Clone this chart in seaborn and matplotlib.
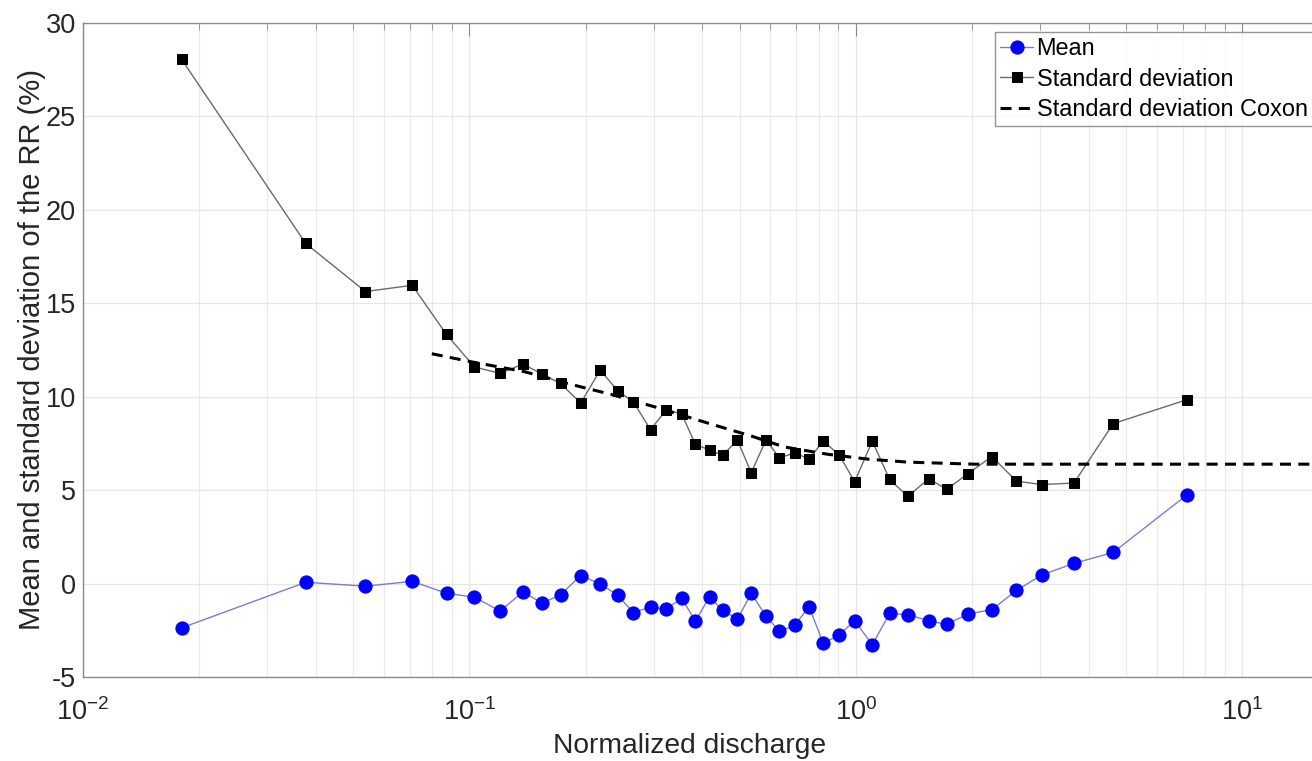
import numpy as np
import pandas as pd
import matplotlib
matplotlib.use("Agg")
import matplotlib.pyplot as plt
import seaborn as sns
from matplotlib.ticker import LogLocator, NullFormatter

# ---- data ----
discharge = [0.0180, 0.0377, 0.0538, 0.0711, 0.0872, 0.103, 0.120, 0.1376, 0.154, 0.172,
             0.194, 0.218, 0.2416, 0.2653, 0.294, 0.323, 0.354, 0.384, 0.418, 0.4515,
             0.4936, 0.5356, 0.5853, 0.6335, 0.694, 0.756, 0.823, 0.904, 0.992, 1.102,
             1.222, 1.363, 1.542, 1.716, 1.951, 2.246, 2.60, 3.024, 3.664, 4.63, 7.18]
std_rr = [28.05, 18.2, 15.63, 15.96, 13.33, 11.59, 11.25, 11.75, 11.21, 10.71,
          9.66, 11.43, 10.32, 9.73, 8.24, 9.29, 9.08, 7.46, 7.14, 6.87,
          7.67, 5.94, 7.69, 6.73, 6.99, 6.67, 7.63, 6.89, 5.45, 7.62,
          5.57, 4.66, 5.62, 5.04, 5.89, 6.80, 5.48, 5.30, 5.38, 8.56, 9.84]
mean_rr = [-2.37, 0.07, -0.14, 0.12, -0.52, -0.73, -1.47, -0.44, -1.05, -0.60,
           0.43, -0.02, -0.62, -1.55, -1.26, -1.37, -0.78, -2.01, -0.71, -1.44,
           -1.90, -0.53, -1.74, -2.56, -2.24, -1.23, -3.20, -2.76, -1.99, -3.27,
           -1.60, -1.66, -1.99, -2.19, -1.62, -1.40, -0.37, 0.46, 1.08, 1.67, 4.74]
coxon_x = [0.0799, 0.101, 0.1387, 0.183, 0.232, 0.307, 0.397, 0.535, 0.653, 0.845,
           1.072, 1.36, 2.02, 3.6, 16.35]
coxon_y = [12.30, 11.87, 11.34, 10.66, 10.13, 9.41, 8.70, 7.90, 7.31, 6.92,
           6.66, 6.50, 6.39, 6.39, 6.39]

labels = ["Mean", "Standard deviation", "Standard deviation Coxon"]

sns.set_style("white")
plt.rcParams['font.family'] = ['Liberation Sans', 'DejaVu Sans']
plt.rcParams['mathtext.fontset'] = 'custom'
plt.rcParams['mathtext.rm'] = 'Liberation Sans'
plt.rcParams['axes.unicode_minus'] = False

fig = plt.figure(figsize=(13.12, 7.61), dpi=100)
W, H = 1312, 761
left_px, right_px, top_px, bottom_px = 83, 1325, 23, 677
ax = fig.add_axes([left_px / W, (H - bottom_px) / H,
                   (right_px - left_px) / W, (bottom_px - top_px) / H])
ax.set_xscale('log')

df_mean = pd.DataFrame({"x": discharge, "y": mean_rr})
df_std = pd.DataFrame({"x": discharge, "y": std_rr})
df_cox = pd.DataFrame({"x": coxon_x, "y": coxon_y})

sns.lineplot(data=df_mean, x="x", y="y", ax=ax, color="#7b7bd6", lw=1.0,
             marker="o", markersize=9.5, markerfacecolor="#0000ff",
             markeredgecolor="#0000ff", label=labels[0], sort=False, zorder=3)
sns.lineplot(data=df_std, x="x", y="y", ax=ax, color="#6a6a6a", lw=1.0,
             marker="s", markersize=7.5, markerfacecolor="black",
             markeredgecolor="black", label=labels[1], sort=False, zorder=3)
sns.lineplot(data=df_cox, x="x", y="y", ax=ax, color="black", lw=2.2,
             label=labels[2], sort=False, zorder=4)
ax.lines[-1].set_dashes([3.6, 2.4])

ax.set_xlim(0.01, 16.35)
ax.set_ylim(-5, 30)
ax.set_yticks(np.arange(-5, 31, 5))
ax.xaxis.set_major_locator(LogLocator(base=10, numticks=10))
ax.xaxis.set_minor_locator(LogLocator(base=10, subs=np.arange(2, 10), numticks=50))
ax.xaxis.set_minor_formatter(NullFormatter())

ax.grid(True, which='major', axis='both', color='#e6e6e6', lw=0.9)
ax.grid(True, which='minor', axis='x', color='#eaeaea', lw=0.9)
ax.set_axisbelow(True)

spine_c = '#8a8a8a'
for s in ax.spines.values():
    s.set_color(spine_c)
    s.set_linewidth(1.0)
ax.tick_params(axis='both', which='both', direction='in', colors=spine_c,
               labelcolor='#262626', top=True, right=True)
ax.tick_params(axis='both', which='major', length=9, labelsize=19.5)
ax.tick_params(axis='x', which='minor', length=5)
ax.tick_params(axis='x', which='major', pad=15)
ax.tick_params(axis='y', which='major', pad=5)

ax.set_xlabel("Normalized discharge", fontsize=20.3, color='#262626')
ax.set_ylabel("Mean and standard deviation of the RR (%)", fontsize=21,
              color='#262626')
ax.xaxis.set_label_coords(0.488, -0.086)
ax.yaxis.set_label_coords(-0.030, 0.5)

leg = ax.legend(loc='upper left', bbox_to_anchor=(995 / W, 1 - 32 / H),
                bbox_transform=fig.transFigure,
                fontsize=16.9, frameon=True, fancybox=False, borderpad=0.22,
                labelspacing=0.32, handlelength=1.4, handletextpad=0.15,
                borderaxespad=0.0)
leg.get_frame().set_edgecolor('#7a7a7a')
leg.get_frame().set_linewidth(1.0)
for t in leg.get_texts():
    t.set_color('black')

fig.savefig("out.png", dpi=100)
